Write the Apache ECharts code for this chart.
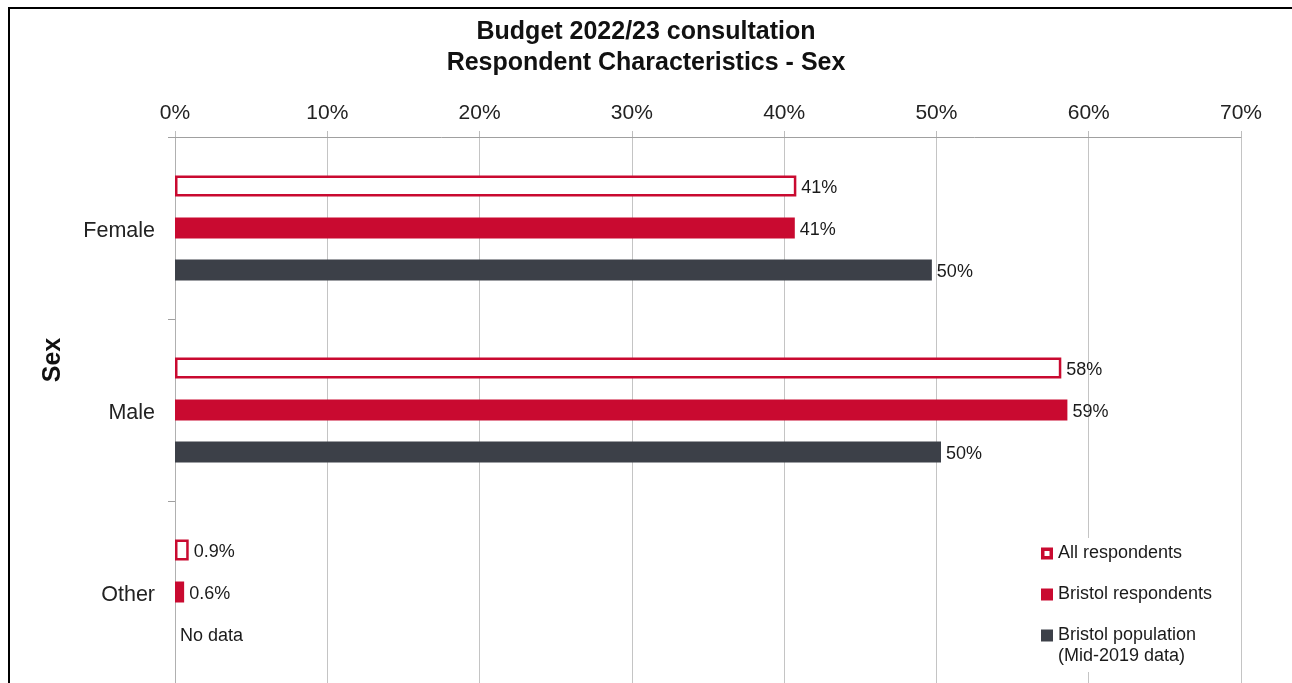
<!DOCTYPE html>
<html>
<head>
<meta charset="utf-8">
<script src="https://cdn.jsdelivr.net/npm/echarts@6/dist/echarts.min.js"></script>
<style>html,body{margin:0;padding:0;background:#fff}#c{width:1292px;height:683px}</style>
</head>
<body>
<div id="c"></div>
<script>
const categories = ['Female', 'Male', 'Other'];
const allRespondents = [40.8, 58.2, 0.9];
const bristolRespondents = [40.7, 58.6, 0.6];
const bristolPopulation = [49.7, 50.3, null];
const xTicks = [0, 10, 20, 30, 40, 50, 60, 70];
const seriesNames = ['All respondents', 'Bristol respondents', 'Bristol population'];

const RED = '#C90A30';
const DARK = '#3C4048';
const FONT = '"Liberation Sans", Arial, sans-serif';

function fmt(v) {
  return v >= 10 ? Math.round(v) + '%' : v.toFixed(1) + '%';
}
const labelBase = {
  show: true, position: 'right', distance: 5, offset: [0, 2],
  fontSize: 18, color: '#1a1a1a', fontFamily: FONT,
  formatter: p => fmt(p.value)
};

const chart = echarts.init(document.getElementById('c'));
chart.setOption({
  backgroundColor: '#fff',
  animation: false,
  title: {
    text: 'Budget 2022/23 consultation\nRespondent Characteristics - Sex',
    left: 'center', top: 17, padding: [0, 0, 0, 20],
    textStyle: { fontFamily: FONT, fontSize: 25, fontWeight: 'bold', lineHeight: 31, color: '#111' }
  },
  graphic: [
    { type: 'rect', shape: { x: 9, y: 8, width: 1320, height: 720 },
      style: { fill: 'none', stroke: '#000', lineWidth: 2 }, z: 100 },
    { type: 'text', x: 53, y: 360, rotation: Math.PI / 2,
      style: { text: 'Sex', fontFamily: FONT, fontSize: 25, fontWeight: 'bold', fill: '#111',
        align: 'center', verticalAlign: 'middle' } }
  ],
  legend: [
    {
      orient: 'vertical', left: 1036, top: 538, padding: 5,
      backgroundColor: '#fff', itemWidth: 12, itemHeight: 12, itemGap: 20,
      textStyle: { fontFamily: FONT, fontSize: 18, lineHeight: 21, color: '#1a1a1a' },
      data: [
        { name: seriesNames[0], icon: 'path://M0,0H12V12H0Z M3.5,3.5V8.5H8.5V3.5Z',
          itemStyle: { color: RED, borderWidth: 0 } },
        { name: seriesNames[1], icon: 'rect' }
      ]
    },
    {
      orient: 'vertical', left: 1036, top: 599, padding: 5,
      backgroundColor: '#fff', itemWidth: 12, itemHeight: 12,
      textStyle: { fontFamily: FONT, fontSize: 18, lineHeight: 21, color: '#1a1a1a' },
      formatter: name => '\n' + name + '\n(Mid-2019 data)',
      data: [{ name: seriesNames[2], icon: 'rect' }]
    }
  ],
  grid: { left: 175, right: 51, top: 137, height: 549 },
  xAxis: {
    type: 'value', position: 'top', min: xTicks[0], max: xTicks[xTicks.length - 1], interval: 10,
    axisLine: { show: true, lineStyle: { color: '#a0a0a0', width: 1 } },
    axisTick: { show: true, length: 6, lineStyle: { color: '#bdbdbd' } },
    splitLine: { show: true, lineStyle: { color: '#c4c4c4', width: 1 } },
    axisLabel: { fontFamily: FONT, fontSize: 21, color: '#222', margin: 13, formatter: '{value}%' }
  },
  yAxis: {
    type: 'category', inverse: true, data: categories,
    axisLine: { show: true, lineStyle: { color: '#b0b0b0' } },
    axisTick: { show: true, length: 7, lineStyle: { color: '#a0a0a0' } },
    axisLabel: { fontFamily: FONT, fontSize: 21.5, color: '#222', margin: 20,
      verticalAlign: 'top', lineHeight: 6 }
  },
  series: [
    {
      name: seriesNames[0], type: 'bar', barWidth: 21, barGap: '100%',
      data: allRespondents,
      itemStyle: { color: '#fff', borderColor: RED, borderWidth: 2.5 },
      label: labelBase
    },
    {
      name: seriesNames[1], type: 'bar', barWidth: 21, barGap: '100%',
      data: bristolRespondents,
      itemStyle: { color: RED },
      label: labelBase
    },
    {
      name: seriesNames[2], type: 'bar', barWidth: 21, barGap: '100%',
      data: bristolPopulation.map(v => v === null
        ? { value: 0, label: { formatter: 'No data' } }
        : v),
      itemStyle: { color: DARK },
      label: labelBase
    }
  ]
});
</script>
</body>
</html>
